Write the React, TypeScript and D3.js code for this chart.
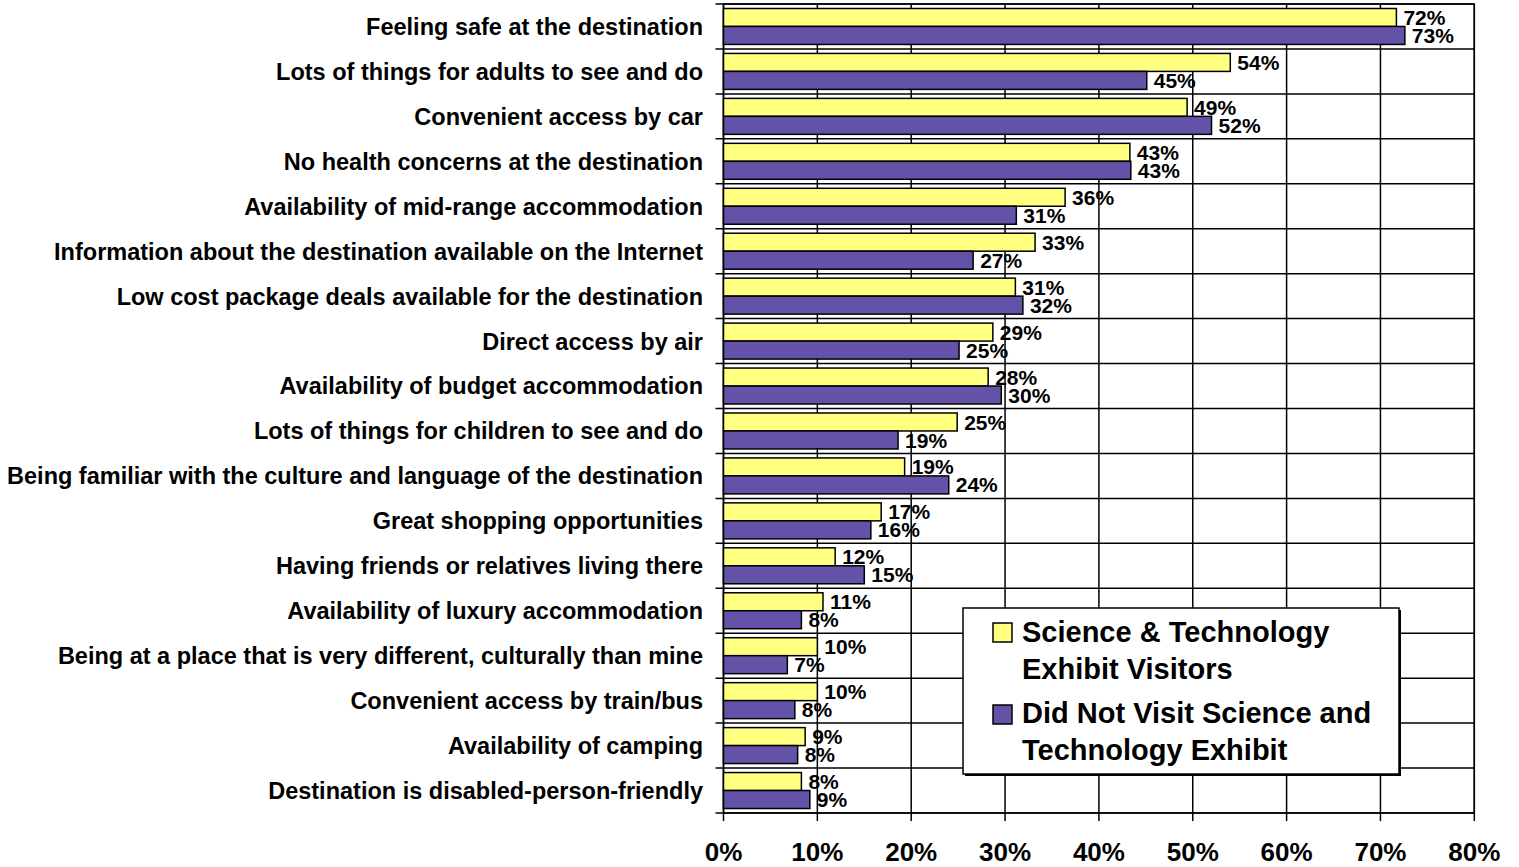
import React from "react";
import * as d3 from "d3";

const categories = [
  "Feeling safe at the destination",
  "Lots of things for adults to see and do",
  "Convenient access by car",
  "No health concerns at the destination",
  "Availability of mid-range accommodation",
  "Information about the destination available on the Internet",
  "Low cost package deals available for the destination",
  "Direct access by air",
  "Availability of budget accommodation",
  "Lots of things for children to see and do",
  "Being familiar with the culture and language of the destination",
  "Great shopping opportunities",
  "Having friends or relatives living there",
  "Availability of luxury accommodation",
  "Being at a place that is very different, culturally than mine",
  "Convenient access by train/bus",
  "Availability of camping",
  "Destination is disabled-person-friendly",
];

const visitors = [71.7, 54.0, 49.4, 43.3, 36.4, 33.2, 31.1, 28.7, 28.2, 24.9, 19.3, 16.8, 11.9, 10.6, 10.0, 10.0, 8.7, 8.3];
const nonVisitors = [72.6, 45.1, 52.0, 43.4, 31.2, 26.6, 31.9, 25.1, 29.6, 18.6, 24.0, 15.7, 15.0, 8.3, 6.8, 7.6, 7.9, 9.2];

const xTicks = [0, 10, 20, 30, 40, 50, 60, 70, 80];
const seriesKeys = ["visitors", "nonVisitors"];
const seriesColors = ["#FFFF80", "#6452A8"];
const legendLines = [
  ["Science & Technology", "Exhibit Visitors"],
  ["Did Not Visit Science and", "Technology Exhibit"],
];

const FONT = "'Liberation Sans', Arial, Helvetica, sans-serif";

export default function App() {
  const W = 1519;
  const H = 867;
  const left = 723.5;
  const right = 1474.3;
  const top = 4;
  const bottom = 813;

  const x = d3.scaleLinear().domain([0, 80]).range([left, right]);
  const y0 = d3.scaleBand<string>().domain(categories).range([top, bottom]).padding(0);
  const y1 = d3
    .scaleBand<string>()
    .domain(seriesKeys)
    .range([0, y0.bandwidth()])
    .paddingInner(0)
    .paddingOuter(0.25);

  const data = [visitors, nonVisitors];
  const boundaries = d3.range(categories.length + 1).map((i) => top + i * y0.bandwidth());

  return (
    <svg
      width={W}
      height={H}
      style={{ position: "absolute", left: 0, top: 0, background: "#fff" }}
      fontFamily={FONT}
      fontWeight="bold"
    >
      <rect x={0} y={0} width={W} height={H} fill="#fff" />
      {/* vertical gridlines */}
      {xTicks.map((t) => (
        <line key={"vg" + t} x1={x(t)} x2={x(t)} y1={top} y2={bottom} stroke="#000" strokeWidth={1.5} />
      ))}
      {/* horizontal category lines */}
      {boundaries.map((b, i) => (
        <line key={"hg" + i} x1={left - 8} x2={right} y1={b} y2={b} stroke="#000" strokeWidth={1.5} />
      ))}
      {/* bottom ticks */}
      {xTicks.map((t) => (
        <line key={"bt" + t} x1={x(t)} x2={x(t)} y1={bottom} y2={bottom + 8} stroke="#000" strokeWidth={1.5} />
      ))}
      {/* frame */}
      <rect x={left} y={top} width={right - left} height={bottom - top} fill="none" stroke="#000" strokeWidth={1.5} />

      {/* bars */}
      {categories.map((c, i) => (
        <g key={"g" + i} transform={`translate(0,${y0(c)})`}>
          {seriesKeys.map((s, j) => (
            <rect
              key={s}
              x={x(0)}
              y={y1(s)}
              width={x(data[j][i]) - x(0)}
              height={y1.bandwidth()}
              fill={seriesColors[j]}
              stroke="#000"
              strokeWidth={1.5}
            />
          ))}
        </g>
      ))}

      {/* value labels */}
      {categories.map((c, i) => (
        <g key={"l" + i} transform={`translate(0,${y0(c)})`}>
          {seriesKeys.map((s, j) => (
            <text
              key={s}
              x={x(data[j][i]) + 7}
              y={(y1(s) as number) + y1.bandwidth() / 2}
              dy="0.36em"
              fontSize={21}
              fill="#000"
            >
              {Math.round(data[j][i])}%
            </text>
          ))}
        </g>
      ))}

      {/* category labels */}
      {categories.map((c) => (
        <text
          key={"c" + c}
          x={703}
          y={(y0(c) as number) + y0.bandwidth() / 2}
          dy="0.36em"
          textAnchor="end"
          fontSize={23.5}
          fill="#000"
        >
          {c}
        </text>
      ))}

      {/* x tick labels */}
      {xTicks.map((t) => (
        <text key={"xt" + t} x={x(t)} y={861} textAnchor="middle" fontSize={26} fill="#000">
          {t}%
        </text>
      ))}

      {/* legend */}
      <rect x={965} y={610} width={436} height={166} fill="#000" />
      <rect x={963} y={608} width={436} height={166} fill="#fff" stroke="#000" strokeWidth={1.5} />
      {legendLines.map((lines, j) => (
        <g key={"lg" + j}>
          <rect
            x={993}
            y={623 + j * 82}
            width={19}
            height={19}
            fill={seriesColors[j]}
            stroke="#000"
            strokeWidth={1.5}
          />
          {lines.map((ln, k) => (
            <text key={k} x={1022} y={642 + j * 81 + k * 36.5} fontSize={29} fill="#000">
              {ln}
            </text>
          ))}
        </g>
      ))}
    </svg>
  );
}
